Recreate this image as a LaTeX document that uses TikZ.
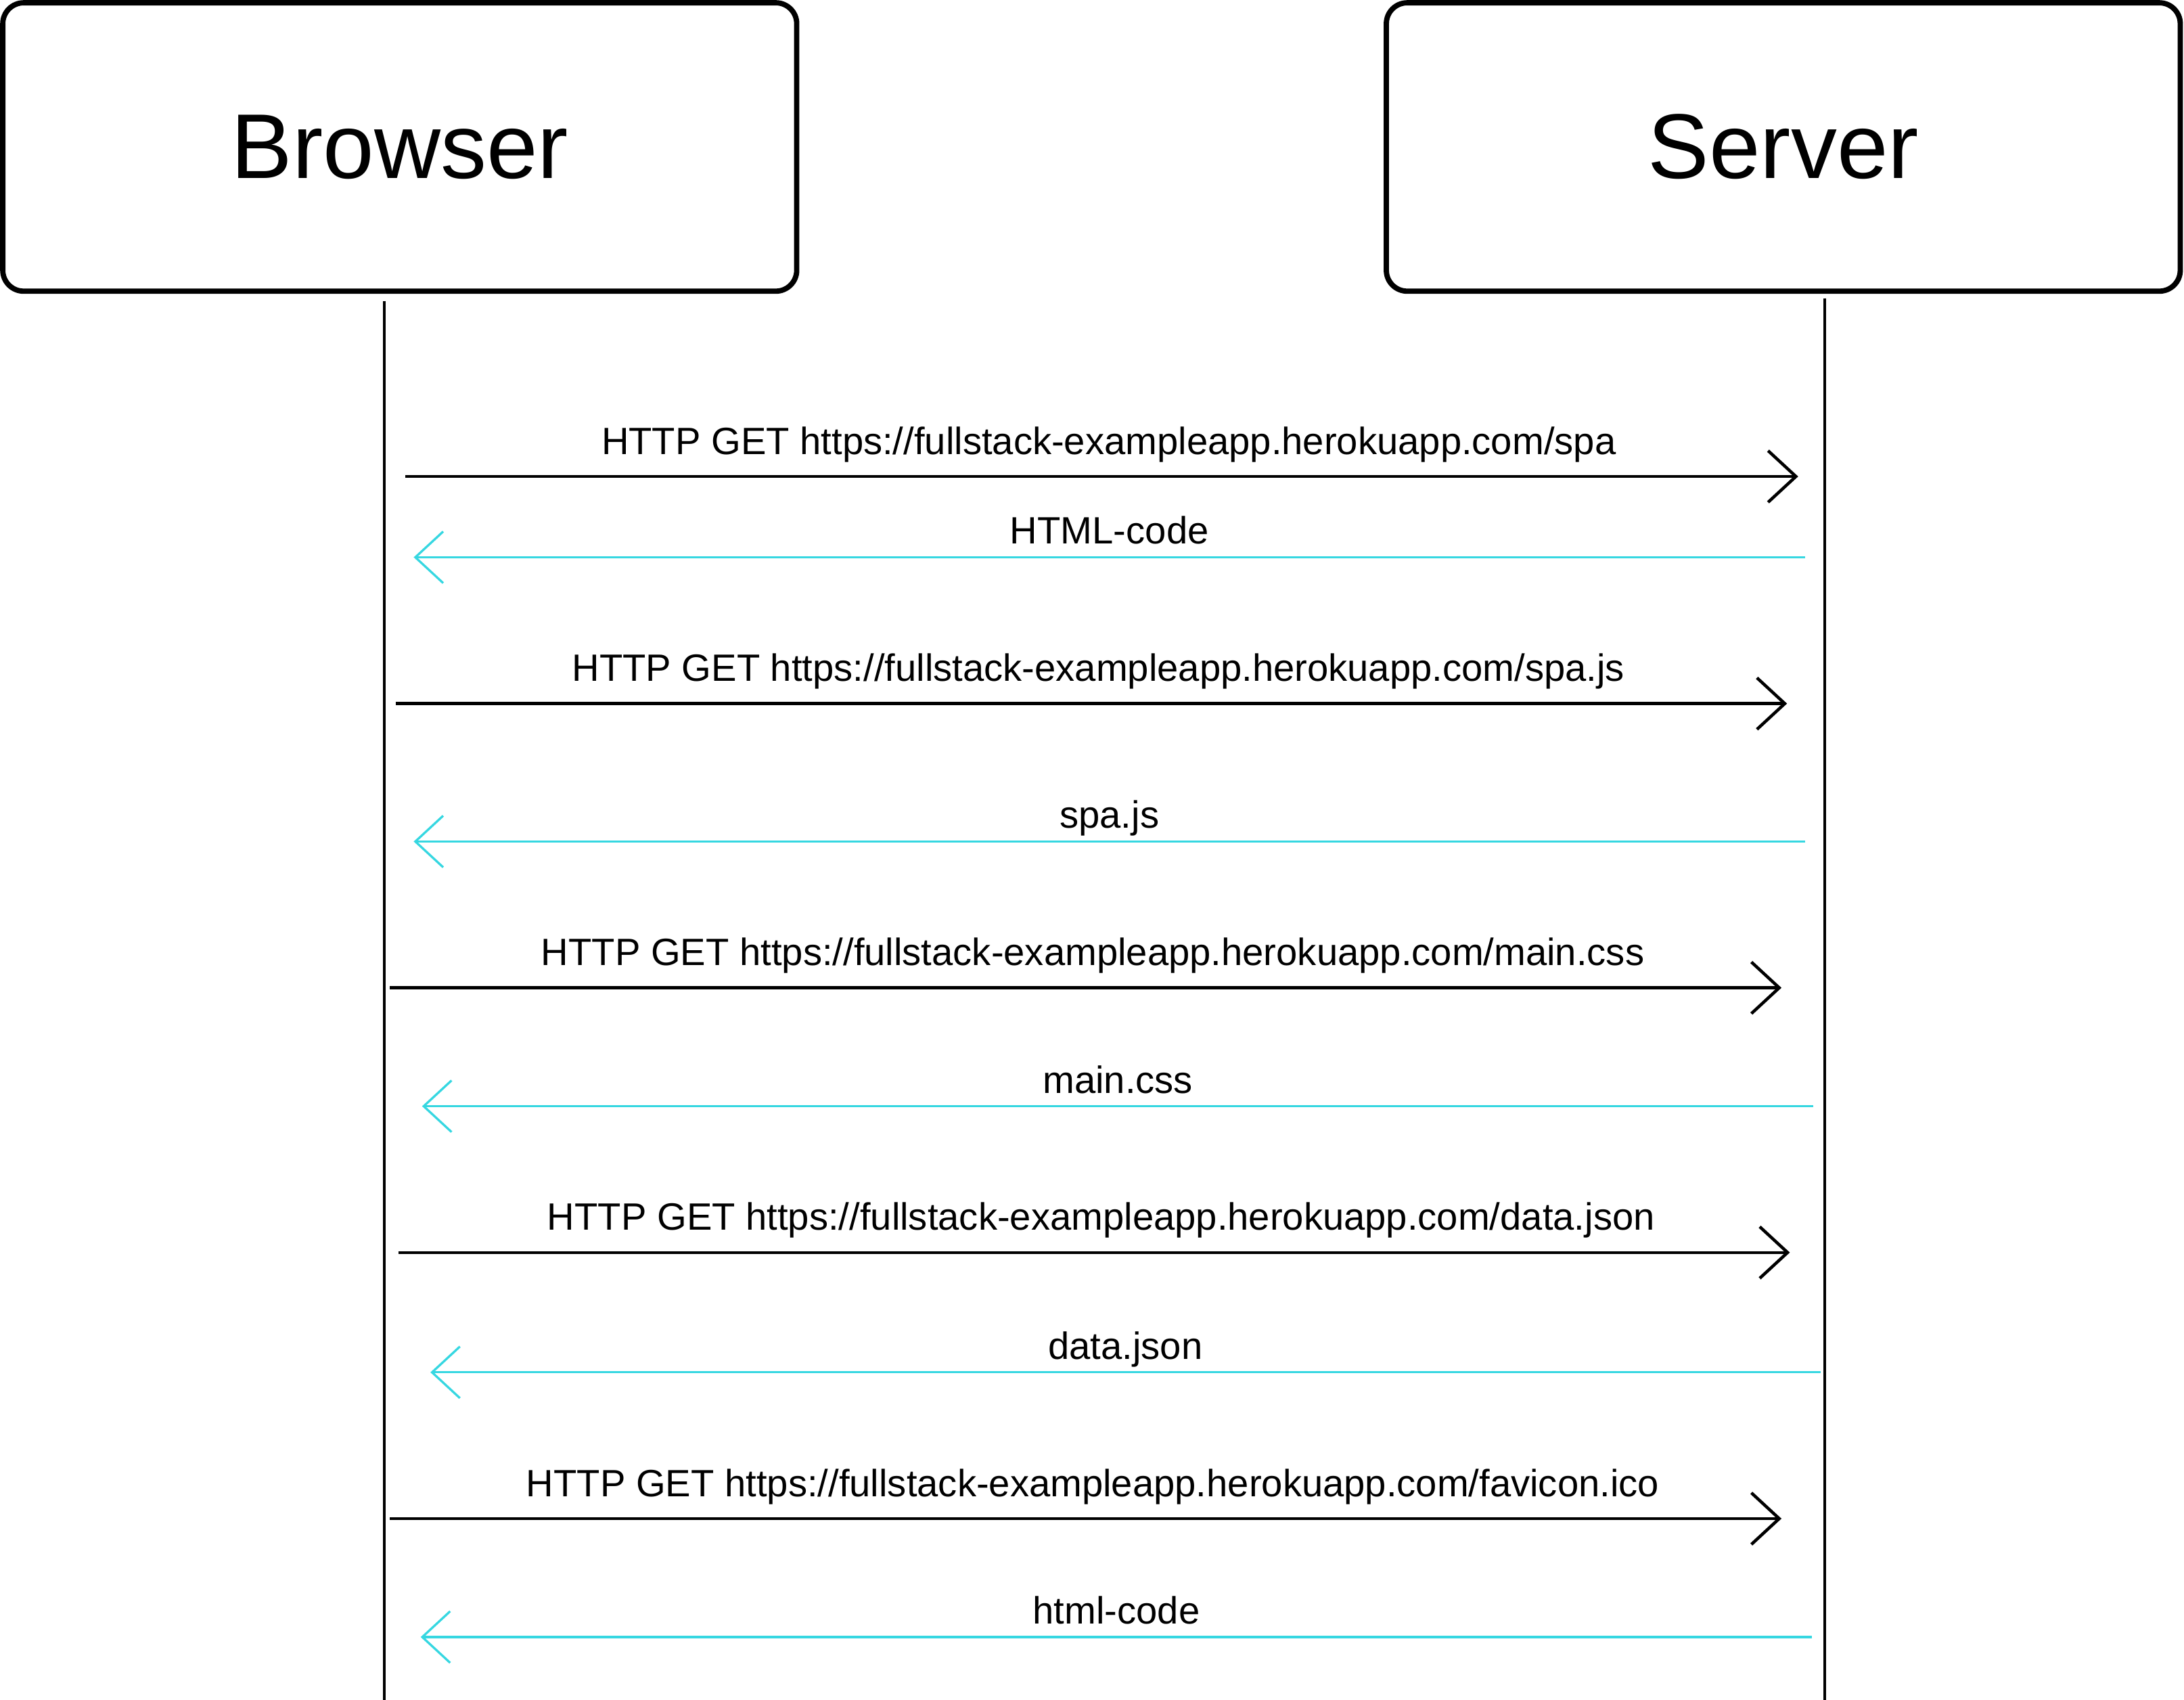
\documentclass[tikz,border=0pt]{standalone}
\usepackage{fontspec}
\setmainfont{Liberation Sans}
\usepackage{xcolor}
\usetikzlibrary{arrows.meta, positioning}
\definecolor{respcyan}{RGB}{54,215,225}

\begin{document}
\begin{tikzpicture}[
    x=1pt, y=-1pt,
    box/.style={rectangle, rounded corners=15pt, draw=black, line width=3.8pt, minimum width=570pt, minimum height=207pt, font=\fontsize{66}{70}\selectfont},
    lifeline/.style={line width=2.2pt, black},
    req/.style={-{Straight Barb[length=20pt, width=37pt]}, line width=2.2pt, black},
    resp/.style={-{Straight Barb[length=20pt, width=37pt]}, line width=1.6pt, respcyan},
    msg/.style={font=\fontsize{27.3}{30}\selectfont, text=black, anchor=base, inner sep=0pt},
    reqmsg/.style={msg, yshift=16pt, xshift=5pt},
    respmsg/.style={msg, yshift=9.5pt}
]
\useasboundingbox (0,0) rectangle (1568,1220);

\node[box] (browser) at (287,105.5) {Browser};
\node[box, right=419.5pt of browser] (server) {Server};

% lifelines
\coordinate (browser-top) at (276,216);
\coordinate (browser-end) at (276,1220);
\coordinate (server-top) at (1310,214);
\coordinate (server-end) at (1310,1220);
\draw[lifeline] (browser-top) -- (browser-end);
\draw[lifeline] (server-top) -- (server-end);

% spa
\coordinate (spa-b) at (291,342);
\coordinate (spa-s) at (1291,342);
\draw[req] (spa-b) -- node[reqmsg] (spa-lbl) {HTTP GET https://fullstack-exampleapp.herokuapp.com/spa} (spa-s);
\coordinate (html-s) at (1296,400);
\coordinate (html-b) at (297,400);
\draw[resp] (html-s) -- node[respmsg] (html-lbl) {HTML-code} (html-b);

% spa.js
\coordinate (js-b) at (284,505);
\coordinate (js-s) at (1283,505);
\draw[req] (js-b) -- node[reqmsg] (js-lbl) {HTTP GET https://fullstack-exampleapp.herokuapp.com/spa.js} (js-s);
\coordinate (jsback-s) at (1296,604);
\coordinate (jsback-b) at (297,604);
\draw[resp] (jsback-s) -- node[respmsg] (jsback-lbl) {spa.js} (jsback-b);

% main.css
\coordinate (css-b) at (280,709);
\coordinate (css-s) at (1279,709);
\draw[req] (css-b) -- node[reqmsg] (css-lbl) {HTTP GET https://fullstack-exampleapp.herokuapp.com/main.css} (css-s);
\coordinate (cssback-s) at (1302,794);
\coordinate (cssback-b) at (303,794);
\draw[resp] (cssback-s) -- node[respmsg] (cssback-lbl) {main.css} (cssback-b);

% data.json
\coordinate (json-b) at (286,899);
\coordinate (json-s) at (1285,899);
\draw[req] (json-b) -- node[reqmsg] (json-lbl) {HTTP GET https://fullstack-exampleapp.herokuapp.com/data.json} (json-s);
\coordinate (jsonback-s) at (1307,985);
\coordinate (jsonback-b) at (309,985);
\draw[resp] (jsonback-s) -- node[respmsg] (jsonback-lbl) {data.json} (jsonback-b);

% favicon.ico
\coordinate (ico-b) at (280,1090);
\coordinate (ico-s) at (1279,1090);
\draw[req] (ico-b) -- node[reqmsg] (ico-lbl) {HTTP GET https://fullstack-exampleapp.herokuapp.com/favicon.ico} (ico-s);
\coordinate (icoback-s) at (1301,1175);
\coordinate (icoback-b) at (302,1175);
\draw[resp] (icoback-s) -- node[respmsg] (icoback-lbl) {html-code} (icoback-b);

\end{tikzpicture}
\end{document}
